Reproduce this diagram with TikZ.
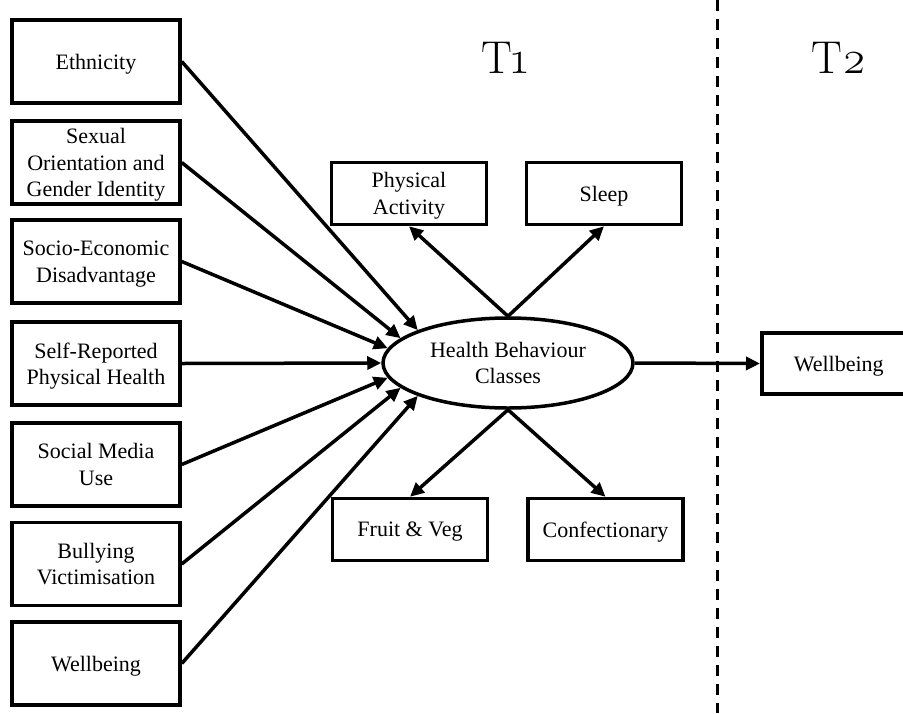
\documentclass[tikz,border=0pt]{standalone}
\usepackage{fontspec}
\setmainfont{Liberation Serif}
\newfontfamily\wavefont{Latin Modern Roman}[Numbers=OldStyle]
\usetikzlibrary{shapes.geometric, arrows.meta}

\tikzset{
  varbox/.style={draw, line width=3.5pt, align=center, inner sep=0pt,
    text depth=-2pt, font=\fontsize{22}{26.5}\selectfont},
  predbox/.style={varbox, minimum width=168pt, minimum height=83pt},
  indbox/.style={varbox, minimum width=155pt, minimum height=62pt},
  arr/.style={line width=3.5pt, -{Triangle[length=14pt,width=13pt]}},
  wave/.style={font=\wavefont\fontsize{46}{50}\selectfont}
}

\begin{document}
\begin{tikzpicture}[x=1pt, y=-1pt]
    \useasboundingbox (0,0) rectangle (903,713);

    % Time points
    \node[wave] (t1) at (505,57.5) {T1};
    \node[wave] (t2) at (839,57.5) {T2};
    \coordinate (divtop) at (717.5,0);
    \coordinate (divbot) at (717.5,713);
    \draw[line width=2.5pt, dash pattern=on 10.5pt off 8.5pt] (divtop) -- (divbot);

    % Predictors
    \node[predbox] (eth) at (96,61.5) {Ethnicity};
    \node[predbox] (sogi) at (96,162.5) {Sexual\\Orientation and\\Gender Identity};
    \node[predbox] (ses) at (96,261.5) {Socio-Economic\\Disadvantage};
    \node[predbox] (health) at (96,363.5) {Self-Reported\\Physical Health};
    \node[predbox] (media) at (96,464.5) {Social Media\\Use};
    \node[predbox] (bully) at (96,564) {Bullying\\Victimisation};
    \node[predbox] (wb1) at (96,663.5) {Wellbeing};

    % Latent classes and indicators
    \node[varbox, ellipse, minimum width=250pt, minimum height=90pt] (hbc) at (508,363) {Health Behaviour\\Classes};
    \node[indbox] (pa) at (409,193.5) {Physical\\Activity};
    \node[indbox] (sleep) at (604,193.5) {Sleep};
    \node[indbox] (fv) at (410,529.5) {Fruit \& Veg};
    \node[indbox] (conf) at (605.5,529.5) {Confectionary};

    % Outcome
    \node[varbox, minimum width=154pt, minimum height=61pt, anchor=west] (wb2) at (760,363.5) {Wellbeing};

    % Paths into the classes
    \draw[arr] (eth.east) -- (hbc.160);
    \draw[arr] (sogi.east) -- (hbc.167);
    \draw[arr] (ses.east) -- (hbc.173);
    \draw[arr] (health.east) -- (hbc.180);
    \draw[arr] (media.east) -- (hbc.187);
    \draw[arr] (bully.east) -- (hbc.193);
    \draw[arr] (wb1.east) -- (hbc.200);

    % Paths out of the classes
    \draw[arr] (hbc.north) -- (pa.south);
    \draw[arr] (hbc.north) -- (sleep.south);
    \draw[arr] (hbc.south) -- (fv.north);
    \draw[arr] (hbc.south) -- (conf.north);
    \draw[arr] (hbc.east) -- (wb2.west);
\end{tikzpicture}
\end{document}
